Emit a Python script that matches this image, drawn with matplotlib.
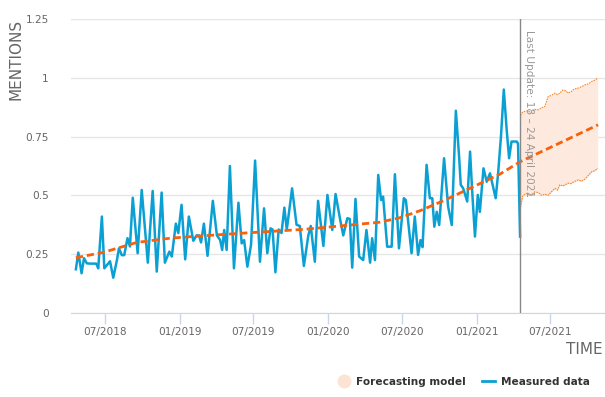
import matplotlib
matplotlib.use('Agg')
import matplotlib.pyplot as plt
import matplotlib.dates as mdates
from matplotlib.lines import Line2D
import pandas as pd

# weekly-ish measured mentions
measured_dates = [
    '2018-04-21', '2018-04-27', '2018-05-05', '2018-05-11', '2018-05-18', '2018-05-26',
    '2018-06-10', '2018-06-15', '2018-06-24', '2018-06-30', '2018-07-07', '2018-07-14',
    '2018-07-22', '2018-07-31', '2018-08-05', '2018-08-12', '2018-08-18', '2018-08-26',
    '2018-09-01', '2018-09-08', '2018-09-20', '2018-09-30', '2018-10-15', '2018-10-27',
    '2018-11-06', '2018-11-18', '2018-11-26', '2018-12-07', '2018-12-13', '2018-12-23',
    '2018-12-29', '2019-01-06', '2019-01-15', '2019-01-24', '2019-02-04', '2019-02-12',
    '2019-02-18', '2019-02-23', '2019-03-02', '2019-03-11', '2019-03-24', '2019-04-03',
    '2019-04-11', '2019-04-16', '2019-04-21', '2019-04-27', '2019-05-05', '2019-05-15',
    '2019-05-26', '2019-06-03', '2019-06-09', '2019-06-17', '2019-06-26', '2019-07-06',
    '2019-07-18', '2019-07-28', '2019-08-05', '2019-08-13', '2019-08-18', '2019-08-25',
    '2019-09-02', '2019-09-09', '2019-09-16', '2019-09-22', '2019-10-05', '2019-10-16',
    '2019-10-24', '2019-11-03', '2019-11-14', '2019-11-20', '2019-11-30', '2019-12-08',
    '2019-12-21', '2019-12-31', '2020-01-12', '2020-01-20', '2020-01-31', '2020-02-08',
    '2020-02-18', '2020-02-24', '2020-03-01', '2020-03-09', '2020-03-18', '2020-03-28',
    '2020-04-05', '2020-04-14', '2020-04-19', '2020-04-26', '2020-05-04', '2020-05-11',
    '2020-05-16', '2020-05-26', '2020-06-06', '2020-06-14', '2020-06-24', '2020-07-06',
    '2020-07-11', '2020-07-25', '2020-08-02', '2020-08-10', '2020-08-16', '2020-08-21',
    '2020-08-31', '2020-09-08', '2020-09-14', '2020-09-19', '2020-09-25', '2020-10-01',
    '2020-10-13', '2020-10-23', '2020-11-01', '2020-11-11', '2020-11-19', '2020-11-23',
    '2020-11-29', '2020-12-09', '2020-12-16', '2020-12-21', '2020-12-28', '2021-01-04',
    '2021-01-09', '2021-01-18', '2021-01-26', '2021-02-03', '2021-02-17', '2021-02-23',
    '2021-03-02', '2021-03-09', '2021-03-16', '2021-03-22', '2021-03-28', '2021-04-10',
    '2021-04-13', '2021-04-18',
]
measured_vals = [
    0.186, 0.257, 0.169, 0.233, 0.211, 0.21,
    0.21, 0.19, 0.41, 0.19, 0.205, 0.22,
    0.15, 0.225, 0.275, 0.246, 0.246, 0.318,
    0.283, 0.49, 0.254, 0.523, 0.214, 0.519,
    0.176, 0.512, 0.214, 0.261, 0.24, 0.38,
    0.34, 0.46, 0.228, 0.41, 0.307, 0.33,
    0.33, 0.30, 0.38, 0.243, 0.477, 0.33,
    0.31, 0.268, 0.353, 0.268, 0.625, 0.19,
    0.469, 0.296, 0.31, 0.197, 0.29, 0.648,
    0.218, 0.445, 0.254, 0.36, 0.355, 0.173,
    0.355, 0.34, 0.448, 0.355, 0.53, 0.375,
    0.37, 0.20, 0.33, 0.37, 0.218, 0.477,
    0.285, 0.502, 0.353, 0.506, 0.40, 0.33,
    0.403, 0.40, 0.193, 0.485, 0.24, 0.225,
    0.353, 0.214, 0.318, 0.225, 0.587, 0.48,
    0.495, 0.282, 0.282, 0.59, 0.275, 0.488,
    0.48, 0.254, 0.41, 0.247, 0.31, 0.28,
    0.63, 0.488, 0.488, 0.367, 0.43, 0.374,
    0.658, 0.452, 0.374, 0.86, 0.665, 0.545,
    0.53, 0.474, 0.686, 0.523, 0.325, 0.502,
    0.43, 0.615, 0.558, 0.594, 0.488, 0.594,
    0.75, 0.95, 0.78, 0.658, 0.729, 0.729,
    0.72, 0.325,
]

# smoothed trend + forecast
trend_dates = ['2018-04-21', '2018-06-28', '2018-09-18', '2018-12-09', '2019-01-30',
               '2019-06-11', '2019-11-06', '2020-01-31', '2020-05-08', '2020-06-26',
               '2020-08-15', '2020-10-15', '2021-02-27', '2021-04-18', '2021-10-27']
trend_vals = [0.235, 0.258, 0.30, 0.318, 0.325, 0.34, 0.356, 0.37, 0.386, 0.405,
              0.435, 0.48, 0.59, 0.643, 0.80]

# forecast confidence band
band_dates = ['2021-04-19', '2021-04-25', '2021-05-07', '2021-05-15', '2021-05-24',
              '2021-06-02', '2021-06-10', '2021-06-18', '2021-06-26', '2021-07-04',
              '2021-07-13', '2021-07-19', '2021-07-25', '2021-08-01', '2021-08-07',
              '2021-08-14', '2021-08-21', '2021-08-29', '2021-09-08', '2021-09-16',
              '2021-09-25', '2021-10-03', '2021-10-11', '2021-10-19', '2021-10-26']
band_upper = [0.84, 0.855, 0.86, 0.852, 0.866, 0.864, 0.872, 0.878, 0.92, 0.925,
              0.935, 0.928, 0.935, 0.948, 0.946, 0.936, 0.94, 0.952, 0.956, 0.962,
              0.97, 0.974, 0.984, 0.99, 0.999]
band_lower = [0.45, 0.50, 0.51, 0.50, 0.515, 0.512, 0.50, 0.505, 0.50, 0.515,
              0.53, 0.522, 0.545, 0.54, 0.545, 0.552, 0.55, 0.558, 0.566, 0.56,
              0.57, 0.585, 0.60, 0.605, 0.615]

last_update = '2021-04-18'
yticks = [0, 0.25, 0.5, 0.75, 1, 1.25]
ytick_labels = ['0', '0.25', '0.5', '0.75', '1', '1.25']

md = pd.to_datetime(measured_dates)
td = pd.to_datetime(trend_dates)
bd = pd.to_datetime(band_dates)
lu = pd.Timestamp(last_update)

fig = plt.figure(figsize=(6.05, 3.97), dpi=100)
ax = fig.add_axes([71/605, 1-313/397, 1-71/605, 294/397])

ax.fill_between(bd, band_lower, band_upper, color='#fde9dd', lw=0, zorder=1)
ax.plot(bd, band_upper, color='#f7862a', lw=0.8, ls=(0, (1.5, 0.8)), zorder=2)
ax.plot(bd, band_lower, color='#f7862a', lw=0.8, ls=(0, (1.5, 0.8)), zorder=2)

ax.plot(md, measured_vals, color='#0ba0d3', lw=1.8, zorder=3, solid_joinstyle='round')
ax.plot(td, trend_vals, color='#f8610c', lw=2, ls=(0, (2.6, 1.4)), zorder=4)

ax.axvline(lu, color='#888888', lw=1, zorder=5)
ax.annotate('Last Update: 18 \u2013 24 April 2021', xy=(lu, 0.963),
            xycoords=('data', 'axes fraction'), xytext=(3, 0), textcoords='offset points',
            rotation=270, ha='left', va='top', fontsize=7.6, color='#999999', zorder=6)

ax.set_ylim(0, 1.25)
ax.set_xlim(pd.Timestamp('2018-04-09'), pd.Timestamp('2021-11-13'))
ax.set_yticks(yticks)
ax.set_yticklabels(ytick_labels)
ax.yaxis.grid(True, color='#e6e6e6', lw=1)
ax.set_axisbelow(True)

ax.xaxis.set_major_locator(mdates.MonthLocator(bymonth=[1, 7]))
ax.xaxis.set_major_formatter(mdates.DateFormatter('%m/%Y'))

for s in ['top', 'right', 'left']:
    ax.spines[s].set_visible(False)
ax.spines['bottom'].set_color('#ccd6eb')
ax.tick_params(axis='x', colors='#ccd6eb', length=8, width=1, labelcolor='#666666',
               labelsize=7.6, pad=2)
ax.tick_params(axis='y', length=0, labelcolor='#666666', labelsize=7.6, pad=16)

fig.text(16/605, 1-19/397, 'MENTIONS', fontsize=11, color='#666666', rotation=90,
         ha='center', va='top')
fig.text(603/605, 1-349/397, 'TIME', fontsize=11, color='#666666', ha='right', va='center')

handles = [Line2D([], [], ls='none', marker='o', markersize=9, color='#fde3d3'),
           Line2D([], [], color='#0ba0d3', lw=2)]
fig.legend(handles, ['Forecasting model', 'Measured data'], loc='center right',
           bbox_to_anchor=(0.99, 1-382/397), ncol=2, frameon=False,
           prop={'weight': 'bold', 'size': 7.6}, labelcolor='#333333',
           handlelength=1.3, handletextpad=0.5, columnspacing=1.5)

fig.savefig('out.png', dpi=100)
